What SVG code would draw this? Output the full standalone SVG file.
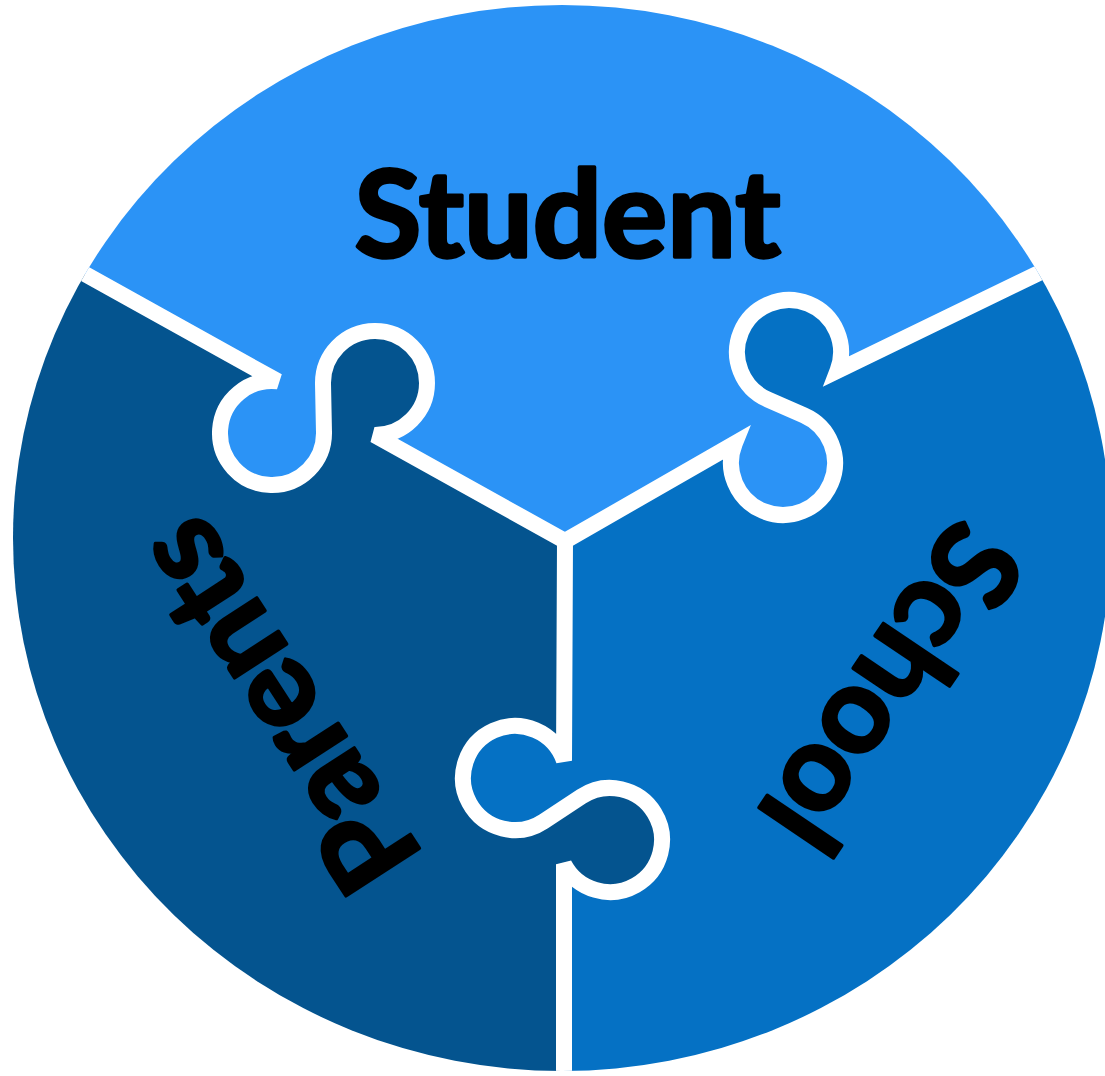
<svg xmlns="http://www.w3.org/2000/svg" width="1105" height="1076" viewBox="0 0 1105 1076">
  <defs>
    <!-- outer disc that every piece is cut to -->
    <clipPath id="disc">
      <ellipse cx="562" cy="538" rx="549" ry="533"/>
    </clipPath>
    <style>
      .student { fill: #2b93f6; }
      .parents { fill: #04548f; }
      .school  { fill: #0571c4; }
      .seam    { fill: none; stroke: #ffffff; stroke-width: 16; stroke-linejoin: miter; stroke-miterlimit: 4; stroke-linecap: butt; }
      .label   { font-family: Lato, "Open Sans", "Liberation Sans", sans-serif; font-weight: 700; font-size: 121px; fill: #000000; stroke: #000000; stroke-width: 3.5; stroke-linejoin: round; }
    </style>
  </defs>

  <rect width="1105" height="1076" fill="#ffffff"/>

  <g clip-path="url(#disc)">
    <!-- top piece -->
    <g id="student">
      <path class="student" d="M-10,221.2 L277.91,381.34 A52 52 0 1 0 323.99,431.94 L323.01,384.06 A52 52 0 1 1 374.39,435 L565,541 L734.8,443.49 A52 52 0 1 0 804,415.4 L768,399.6 A52 52 0 1 1 837.54,370.66 L1110,238.6 L1110,-10 L-10,-10 Z"/>
    </g>

    <!-- left piece -->
    <g id="parents">
      <path class="parents" d="M-10,221.2 L277.91,381.34 A52 52 0 1 0 323.99,431.94 L323.01,384.06 A52 52 0 1 1 374.39,435 L565,541 L564,760.59 A52 52 0 1 0 543.57,821.45 L581.43,796.55 A52 52 0 1 1 564,864.25 L564,1090 L-10,1090 Z"/>
    </g>

    <!-- right piece -->
    <g id="school">
      <path class="school" d="M565,541 L734.8,443.49 A52 52 0 1 0 804,415.4 L768,399.6 A52 52 0 1 1 837.54,370.66 L1110,238.6 L1110,1090 L564,1090 L564,864.25 A52 52 0 1 0 581.43,796.55 L543.57,821.45 A52 52 0 1 1 564,760.59 Z"/>
    </g>

    <!-- white seams between the pieces -->
    <g id="connectors">
      <path class="seam" d="M-10,221.2 L277.91,381.34 A52 52 0 1 0 323.99,431.94 L323.01,384.06 A52 52 0 1 1 374.39,435 L565,541"/>
      <path class="seam" d="M565,541 L734.8,443.49 A52 52 0 1 0 804,415.4 L768,399.6 A52 52 0 1 1 837.54,370.66 L1110,238.6"/>
      <path class="seam" d="M565,541 L564,760.59 A52 52 0 1 0 543.57,821.45 L581.43,796.55 A52 52 0 1 1 564,864.25 L564,1090"/>
    </g>
  </g>

  <!-- piece labels -->
  <g id="labels">
    <text id="student-label" class="label" x="567.5" y="257" text-anchor="middle" textLength="426" lengthAdjust="spacingAndGlyphs">Student</text>
    <text id="parents-label" class="label" x="312" y="683" text-anchor="middle" textLength="414" lengthAdjust="spacingAndGlyphs" transform="rotate(-123 312 683)">Parents</text>
    <text id="school-label" class="label" x="856" y="664" text-anchor="middle" textLength="362" lengthAdjust="spacingAndGlyphs" transform="rotate(124 856 664)">School</text>
  </g>
</svg>
